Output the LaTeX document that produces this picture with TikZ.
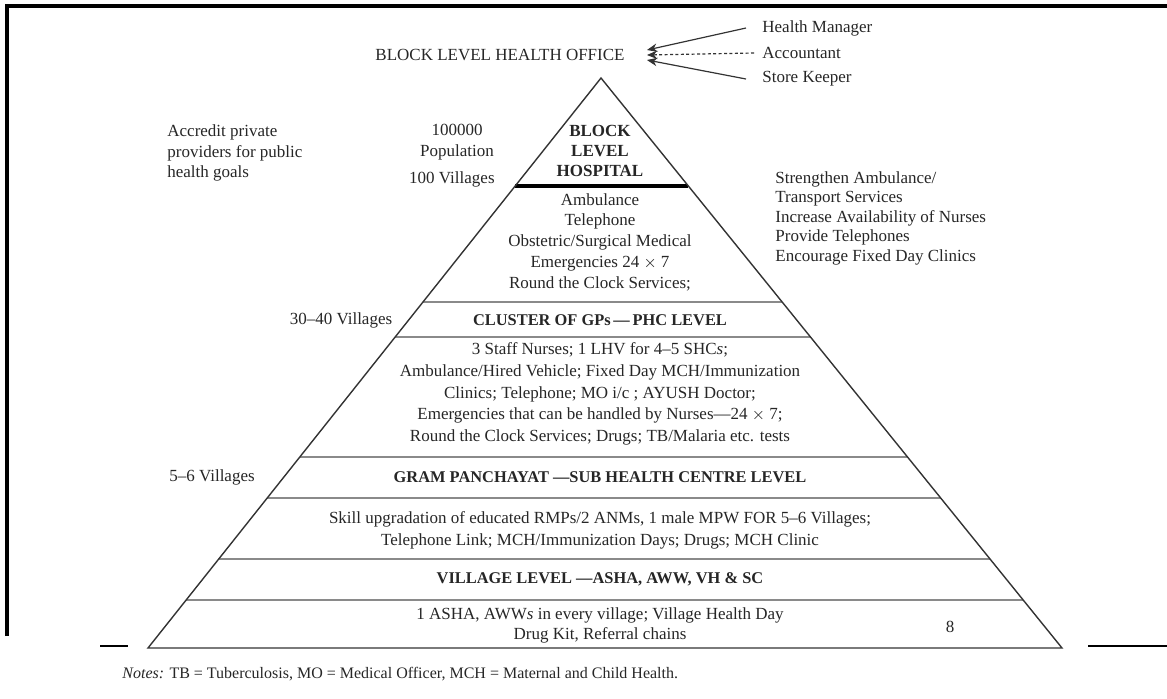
\documentclass[tikz,border=0pt]{standalone}
\usepackage{fontspec}
\setmainfont{Liberation Serif}
\usetikzlibrary{arrows.meta, positioning, calc}
\definecolor{bandgray}{HTML}{8A8A8A}
\definecolor{inkgray}{HTML}{262626}
\tikzset{
    txt/.style={inner sep=1pt, align=center, text=inkgray, font=\fontsize{8.5}{10.6}\selectfont},
    headtxt/.style={txt, font=\fontsize{8.2}{9.8}\selectfont\bfseries},
    sidetxt/.style={txt, align=left, anchor=west},
    bandline/.style={draw=bandgray, line width=1.3pt},
    pyrline/.style={draw=black!80, line width=0.7pt},
    frameline/.style={draw=black, line width=1.6pt},
    arrow/.style={-{Stealth[length=1.8mm, width=1.5mm]}, line width=0.6pt, draw=black!80},
    dashedarrow/.style={arrow, dash pattern=on 1.5pt off 1.2pt}
}

\begin{document}
\begin{tikzpicture}[x=0.5pt, y=-0.5pt, node distance=3pt and 6pt]
\useasboundingbox (0,0) rectangle (1167,698);
\draw[frameline] (7,636) -- (7,6) -- (1167,6);
\draw[frameline, line width=1pt] (100,646) -- (128,646);
\draw[frameline, line width=1pt] (1088,646) -- (1167,646);

\coordinate (apex) at (601,78);
\coordinate (bl) at (148,648);
\coordinate (br) at (1062,648);
\foreach \yy in {302,337,457,498,559,600}
    \draw[bandline] ($(apex)!{(\yy-78)/570}!(bl)$) -- ($(apex)!{(\yy-78)/570}!(br)$);
\draw[line width=1.6pt] ($(apex)!{108/570}!(bl)$) -- ($(apex)!{108/570}!(br)$);
\draw[pyrline] (apex) -- (bl) -- (br) -- cycle;

\node[txt] (office) at (500,55) {BLOCK LEVEL HEALTH OFFICE};
\node[sidetxt] (manager) at (760,28) {Health Manager};
\node[sidetxt] (accountant) at (760,53) {Accountant};
\node[sidetxt] (keeper) at (760,79) {Store Keeper};

\draw[arrow] ([xshift=-7pt]manager.west) -- ([xshift=10pt, yshift=2.5pt]office.east);
\draw[dashedarrow] ([xshift=-3pt]accountant.west) -- ([xshift=10pt]office.east);
\draw[arrow] ([xshift=-7pt]keeper.west) -- ([xshift=10pt, yshift=-2.5pt]office.east);

\node[sidetxt, font=\fontsize{8.5}{10.3}\selectfont] (accredit) at (165,153) {Accredit private\\providers for public\\health goals};
\node[txt] (population) at (457,142) {100000\\Population};
\node[txt, anchor=east] (villages100) at (497,179) {100 Villages};
\node[headtxt, font=\fontsize{8.5}{9.8}\selectfont\bfseries] (hospital) at (600,151) {BLOCK\\LEVEL\\HOSPITAL};
\node[txt, font=\fontsize{8.5}{10.4}\selectfont] (hospserv) at (600,242) {Ambulance\\Telephone\\Obstetric/Surgical Medical\\Emergencies 24 $\times$ 7\\Round the Clock Services;};
\node[sidetxt, font=\fontsize{8.5}{9.75}\selectfont] (strengthen) at (773,218) {Strengthen Ambulance/\\Transport Services\\Increase Availability of Nurses\\Provide Telephones\\Encourage Fixed Day Clinics};

\node[txt] (villages3040) at (341,320) {30--40 Villages};
\node[headtxt] (cluster) at (600,320) {CLUSTER OF GPs\,---\,PHC LEVEL};
\node[txt, font=\fontsize{8.5}{10.9}\selectfont] (phcserv) at (600,394) {3 Staff Nurses; 1 LHV for 4--5 SHC\textit{s};\\Ambulance/Hired Vehicle; Fixed Day MCH/Immunization\\Clinics; Telephone; MO i/c ; AYUSH Doctor;\\Emergencies that can be handled by Nurses---24 $\times$ 7;\\Round the Clock Services; Drugs; TB/Malaria etc. tests};

\node[txt] (villages56) at (212,477) {5--6 Villages};
\node[headtxt] (gram) at (600,477) {GRAM PANCHAYAT ---SUB HEALTH CENTRE LEVEL};
\node[txt, font=\fontsize{8.5}{10.9}\selectfont] (shcserv) at (600,530) {Skill upgradation of educated RMPs/2 ANMs, 1 male MPW FOR 5--6 Villages;\\Telephone Link; MCH/Immunization Days; Drugs; MCH Clinic};

\node[headtxt] (village) at (600,579) {VILLAGE LEVEL ---ASHA, AWW, VH \& SC};
\node[txt, font=\fontsize{8.5}{10}\selectfont] (villserv) at (600,625) {1 ASHA, AWW\textit{s} in every village; Village Health Day\\Drug Kit, Referral chains};
\node[txt] (pagenum) at (950,627) {8};

\node[txt, anchor=west, font=\fontsize{8}{9.6}\selectfont] (notes) at (120,674) {\textit{Notes:} TB = Tuberculosis, MO = Medical Officer, MCH = Maternal and Child Health.};
\end{tikzpicture}
\end{document}
